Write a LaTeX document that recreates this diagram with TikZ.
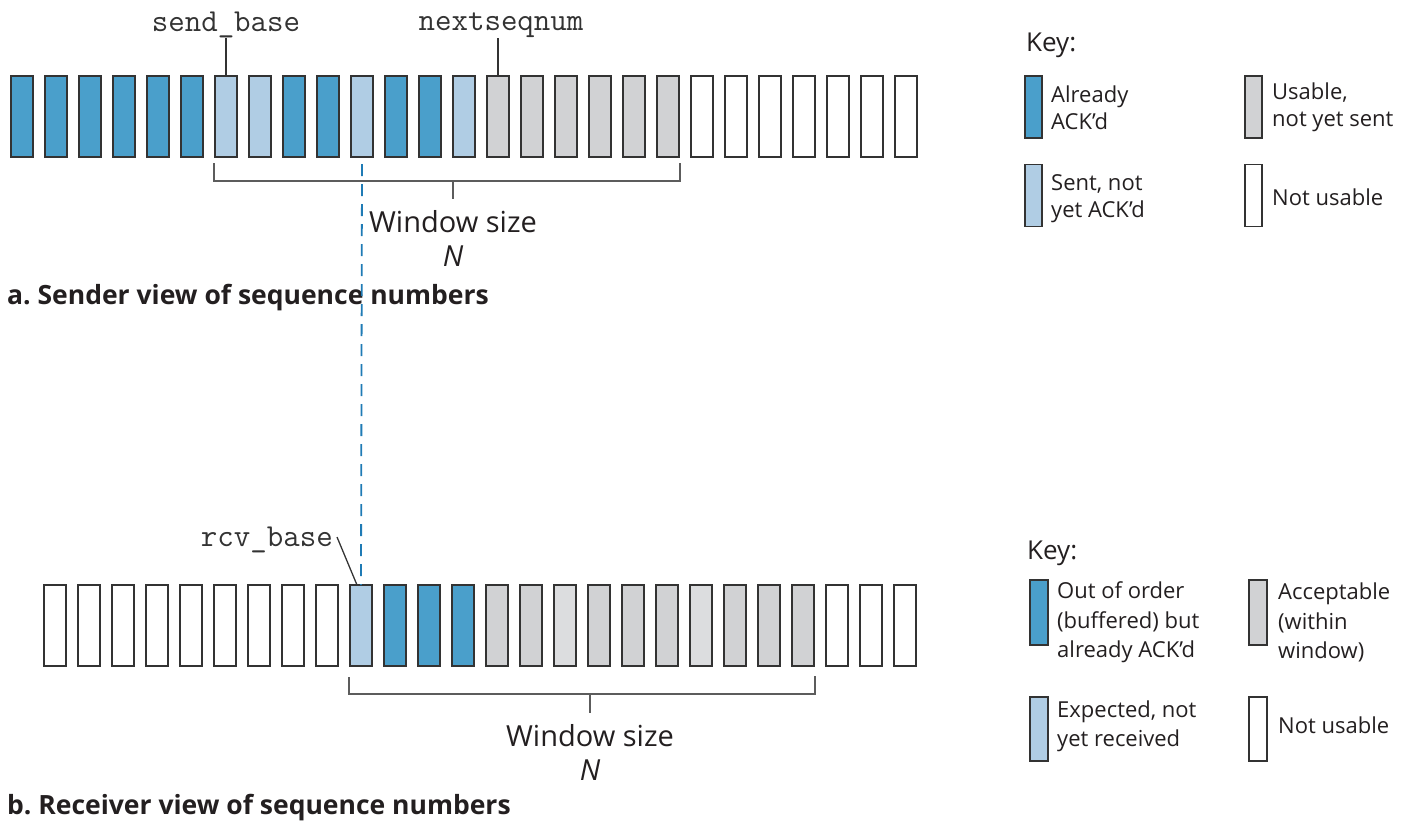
\documentclass[tikz,border=0pt]{standalone}
\usepackage{fontspec}
\setmainfont{Open Sans}
\frenchspacing
\definecolor{dblue}{HTML}{4A9FCB}
\definecolor{lblue}{HTML}{B0CDE4}
\definecolor{gcol}{HTML}{D1D2D4}
\definecolor{gcoll}{HTML}{DCDDDF}
\definecolor{linec}{HTML}{333333}
\definecolor{dashc}{HTML}{1F7BB5}
\definecolor{txt}{HTML}{231F20}
\begin{document}
\begin{tikzpicture}[x=1pt,y=-1pt,
  cell/.style={draw=linec, line width=1.8pt, minimum width=22pt, minimum height=81pt, inner sep=0pt, outer sep=0pt},
  dk/.style={cell, fill=dblue},
  lt/.style={cell, fill=lblue},
  gr/.style={cell, fill=gcol},
  gl/.style={cell, fill=gcoll},
  wh/.style={cell, fill=white},
  keybox/.style={draw=linec, line width=1.6pt, minimum width=17pt, minimum height=62pt, inner sep=0pt, outer sep=0pt},
  keytxt/.style={anchor=west, align=left, inner sep=0pt, text=txt, font=\fontsize{22}{27}\selectfont},
  keytxtb/.style={anchor=west, align=left, inner sep=0pt, text=txt, font=\fontsize{22}{29.5}\selectfont},
  keytitle/.style={anchor=west, inner sep=0pt, text=txt, font=\fontsize{26}{30}\selectfont},
  monolbl/.style={inner sep=0pt, text=linec, font=\ttfamily\fontsize{32}{32}\selectfont},
  wintxt/.style={align=center, inner sep=0pt, text=txt, font=\fontsize{29}{34}\selectfont},
  caption/.style={anchor=west, inner sep=0pt, text=txt, font=\bfseries\fontsize{26.5}{30}\selectfont},
  brk/.style={draw=linec!80, line width=1.4pt},
  lead/.style={draw=linec, line width=1.3pt}
]
\useasboundingbox (0,0) rectangle (1409,831);

% ---------- sender row ----------
\foreach \i/\s in {0/dk,1/dk,2/dk,3/dk,4/dk,5/dk,6/lt,7/lt,8/dk,9/dk,10/lt,11/dk,12/dk,13/lt,
                   14/gr,15/gr,16/gr,17/gr,18/gr,19/gr,
                   20/wh,21/wh,22/wh,23/wh,24/wh,25/wh,26/wh}
  \node[\s] (s\i) at ({22+34*\i},116.5) {};

\node[monolbl, anchor=south] (sendbase) at (226,38) {send\_base};
\node[monolbl, anchor=south] (nextseq) at (501,38) {nextseqnum};
\draw[lead] (sendbase.south) -- (s6.north);
\draw[lead] (s14.north |- nextseq.south) -- (s14.north);

\draw[brk] ([xshift=-1pt,yshift=-6pt]s6.south west) |- ([xshift=1pt,yshift=-24pt]s19.south east)
           -- ([xshift=1pt,yshift=-6pt]s19.south east);
\coordinate (tmidA) at (453,181);
\coordinate (tmidB) at (453,199);
\draw[brk] (tmidA) -- (tmidB);
\node[wintxt] (winA) at (453,238) {Window size\\\textit{N}};
\node[caption] (capA) at (7,298) {a. Sender view of sequence numbers};

% ---------- receiver row ----------
\foreach \i/\s in {0/wh,1/wh,2/wh,3/wh,4/wh,5/wh,6/wh,7/wh,8/wh,9/lt,10/dk,11/dk,12/dk,
                   13/gr,14/gr,15/gl,16/gr,17/gr,18/gr,19/gl,20/gr,21/gr,22/gr,
                   23/wh,24/wh,25/wh}
  \node[\s] (r\i) at ({55+34*\i},625.5) {};

\node[monolbl, anchor=east] (rcvbase) at (333,540) {rcv\_base};
\draw[lead] ([xshift=4pt,yshift=3pt]rcvbase.east) -- ([xshift=-4pt]r9.north);

\draw[brk] ([xshift=-1pt,yshift=-11pt]r9.south west) |- ([xshift=1pt,yshift=-28pt]r22.south east)
           -- ([xshift=1pt,yshift=-10pt]r22.south east);
\coordinate (bmidA) at (590,694);
\coordinate (bmidB) at (590,713);
\draw[brk] (bmidA) -- (bmidB);
\node[wintxt] (winB) at (590,752) {Window size\\\textit{N}};
\node[caption] (capB) at (7,808) {b. Receiver view of sequence numbers};

% ---------- dashed link ----------
\coordinate (dtop) at (s10.south |- 0,164);
\draw[dashc, line width=1.8pt, dash pattern=on 12pt off 8pt] (dtop) -- (r9.north);

% ---------- sender key ----------
\node[keytitle] (keyA) at (1026,45) {Key:};
\node[keybox, fill=dblue] (ka1) at (1033.5,107) {};
\node[keybox, fill=lblue] (ka2) at (1033.5,195.5) {};
\node[keybox, fill=gcol] (ka3) at (1253.5,107) {};
\node[keybox, fill=white] (ka4) at (1253.5,195.5) {};
\node[keytxt] (ta1) at (1051,107.5) {Already\\ACK’d};
\node[keytxt] (ta2) at (1051,199) {Sent, not\\yet ACK’d};
\node[keytxt] (ta3) at (1272,107.5) {Usable,\\not yet sent};
\node[keytxt] (ta4) at (1272,197) {Not usable};

% ---------- receiver key ----------
\node[keytitle] (keyB) at (1027,553) {Key:};
\node[keybox, fill=dblue, minimum width=18pt, minimum height=65pt] (kb1) at (1039,612.5) {};
\node[keybox, fill=lblue, minimum width=18pt, minimum height=64pt] (kb2) at (1039,729) {};
\node[keybox, fill=gcol, minimum width=18pt, minimum height=65pt] (kb3) at (1258,612.5) {};
\node[keybox, fill=white, minimum width=18pt, minimum height=64pt] (kb4) at (1258,729) {};
\node[keytxtb] (tb1) at (1057,622.5) {Out of order\\(buffered) but\\already ACK’d};
\node[keytxtb] (tb2) at (1057,726.5) {Expected, not\\yet received};
\node[keytxtb] (tb3) at (1278,622.5) {Acceptable\\(within\\window)};
\node[keytxtb] (tb4) at (1278,725) {Not usable};
\end{tikzpicture}
\end{document}
